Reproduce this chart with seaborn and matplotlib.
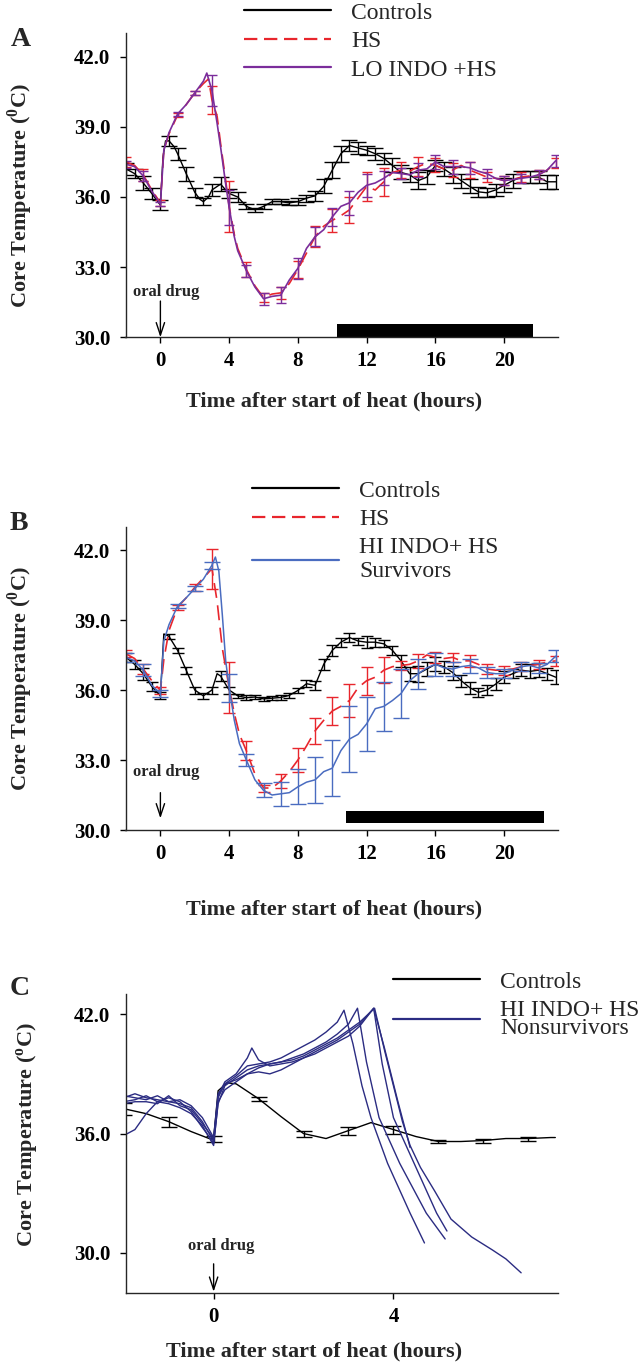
import matplotlib
matplotlib.use("Agg")
import matplotlib.pyplot as plt
from matplotlib.lines import Line2D
import seaborn as sns

# ---------------- panel A : controls / HS / LO INDO + HS ----------------
ctl_a_t = [-2, -1.5, -1, -0.5, -0.1, 0, 0.15, 0.3, 0.5, 0.8, 1, 1.5, 2, 2.3, 2.5, 2.8, 3, 3.5, 3.8, 4,
           4.5, 5, 5.5, 6, 6.5, 7, 7.5, 8, 8.5, 9, 9.5, 10, 10.5, 11, 11.5, 12, 12.5, 13, 13.5, 14,
           14.5, 15, 15.5, 16, 16.5, 17, 17.5, 18, 18.5, 19, 19.5, 20, 20.5, 21, 21.5, 22, 22.5, 23]
ctl_a_temp = [37.2, 37.0, 36.6, 36.15, 35.75, 35.66, 37.7, 38.4, 38.4, 38.15, 37.85, 37.0, 36.2, 35.9, 35.8,
              36.0, 36.3, 36.55, 36.3, 36.15,
              36.0, 35.6, 35.45, 35.6, 35.8, 35.8, 35.75, 35.8, 35.95, 36.05, 36.45, 37.15, 37.85, 38.2,
              38.1, 38.0, 37.85, 37.65, 37.35, 37.05, 36.95, 36.7, 36.85, 37.35, 37.2, 36.95, 36.7, 36.45,
              36.22, 36.18, 36.3, 36.5, 36.7, 36.85, 36.85, 36.85, 36.65, 36.65]
ctl_a_se = [0.25, 0.2, 0.3, 0.25, 0.2, 0.2, 0.25, 0.3, 0.2, 0.15, 0.25, 0.3, 0.2, 0.2, 0.12,
            0.1, 0.12, 0.1, 0.1, 0.1, 0.15, 0.15, 0.2, 0.3, 0.35, 0.35, 0.25, 0.25, 0.2, 0.25,
            0.25, 0.3, 0.3, 0.3, 0.35, 0.3, 0.25, 0.3, 0.35, 0.3, 0.3, 0.2, 0.2, 0.25, 0.3,
            0.3, 0.25, 0.25, 0.25, 0.3, 0.3]

hs_a_t = [-2, -1.5, -1, -0.5, 0, 0.2, 0.5, 1, 1.5, 2, 2.5, 2.8, 3, 3.3, 3.5, 3.8, 4, 4.3, 4.5, 5,
          5.5, 6, 6.5, 7, 7.5, 8, 8.5, 9, 9.5, 10, 10.5, 11, 11.5, 12, 12.5, 13, 13.5, 14, 14.5, 15,
          15.5, 16, 16.5, 17, 17.5, 18, 18.5, 19, 19.5, 20, 20.5, 21, 21.5, 22, 22.5, 23]
hs_a_temp = [37.5, 37.35, 36.95, 36.3, 35.75, 38.0, 38.7, 39.5, 39.95, 40.45, 40.85, 41.05, 40.15, 39.45,
             38.3, 36.7, 35.6, 34.4, 33.8, 32.9,
             32.2, 31.7, 31.85, 31.9, 32.3, 32.9, 33.6, 34.3, 34.75, 35.0, 35.2, 35.45, 35.95, 36.45,
             36.3, 36.65, 37.05, 37.15, 37.1, 37.3, 37.45, 37.35, 37.2, 37.15, 37.35, 37.15, 37.0,
             36.85, 36.8, 36.7, 36.75, 36.85, 36.9, 36.95, 37.15, 37.45]
hs_a_se = [0.2, 0.25, 0.12, 0.1, 0.1, 0.6, 1.1, 0.3, 0.2, 0.25, 0.35, 0.45, 0.5, 0.55, 0.6, 0.6,
           0.35, 0.4, 0.3, 0.3, 0.35, 0.2, 0.2, 0.2, 0.2, 0.2]

lo_a_t = [-2, -1.5, -1, -0.5, 0, 0.2, 0.5, 1, 1.5, 2, 2.5, 2.7, 3, 3.3, 3.5, 3.8, 4, 4.3, 4.5, 5,
          5.5, 6, 6.5, 7, 7.5, 8, 8.5, 9, 9.5, 10, 10.5, 11, 11.5, 12, 12.5, 13, 13.5, 14, 14.5, 15,
          15.5, 16, 16.5, 17, 17.5, 18, 18.5, 19, 19.5, 20, 20.5, 21, 21.5, 22, 22.5, 23]
lo_a_temp = [37.4, 37.3, 36.9, 36.25, 35.7, 38.0, 38.75, 39.55, 39.95, 40.45, 40.95, 41.3, 40.55, 39.15,
             38.15, 36.55, 35.55, 34.3, 33.7, 32.85,
             32.15, 31.65, 31.75, 31.8, 32.45, 32.95, 33.8, 34.3, 34.6, 35.15, 35.6, 35.75, 36.2, 36.5,
             36.6, 36.8, 37.05, 37.0, 36.95, 37.15, 37.2, 37.5, 37.3, 37.3, 37.3, 37.25, 37.1, 37.0,
             36.8, 36.7, 36.75, 36.8, 36.85, 36.95, 37.15, 37.55]
lo_a_se = [0.15, 0.2, 0.1, 0.1, 0.1, 0.65, 0.75, 0.25, 0.25, 0.35, 0.45, 0.4, 0.4, 0.5, 0.5, 0.3,
           0.25, 0.3, 0.3, 0.3, 0.25, 0.2, 0.2, 0.2, 0.2, 0.25]

dark_a = [10.3, 21.7]
dark_a_temp = [30.0, 30.55]

# ---------------- panel B : controls / HS / HI INDO + HS survivors ----------------
ctl_b_t = [-2, -1.5, -1, -0.5, 0, 0.2, 0.5, 1, 1.5, 2, 2.5, 3, 3.3, 3.5, 4,
           4.5, 5, 5.5, 6, 6.5, 7, 7.5, 8, 8.5, 9, 9.5, 10, 10.5, 11, 11.5, 12, 12.5, 13, 13.5, 14,
           14.5, 15, 15.5, 16, 16.5, 17, 17.5, 18, 18.5, 19, 19.5, 20, 20.5, 21, 21.5, 22, 22.5, 23]
ctl_b_temp = [37.4, 37.1, 36.7, 36.15, 35.75, 38.4, 38.3, 37.7, 36.85, 36.0, 35.75, 36.0, 36.7, 36.6, 36.0,
              35.75, 35.67, 35.7, 35.62, 35.65, 35.68, 35.77, 35.98, 36.27, 36.2, 37.1, 37.7, 38.05,
              38.25, 38.1, 38.05, 38.05, 37.98, 37.7, 37.25, 36.7, 36.7, 36.9, 37.1, 37.0, 36.75, 36.4,
              36.1, 35.9, 36.0, 36.25, 36.55, 36.7, 36.85, 36.8, 36.85, 36.7, 36.55]
ctl_b_se = [0.2, 0.2, 0.25, 0.2, 0.15, 0.1, 0.12, 0.15, 0.15, 0.12, 0.15, 0.2, 0.15, 0.1, 0.1,
            0.1, 0.08, 0.08, 0.1, 0.1, 0.12, 0.15, 0.2, 0.25, 0.25, 0.2, 0.2, 0.15, 0.25, 0.2,
            0.15, 0.2, 0.25, 0.3, 0.35, 0.3, 0.3, 0.25, 0.3, 0.25, 0.25, 0.2, 0.2, 0.25, 0.25,
            0.2, 0.25, 0.3, 0.3, 0.25, 0.3]

hs_b_t = [-2, -1.5, -1, -0.5, 0, 0.2, 0.5, 1, 1.5, 2, 2.5, 3, 3.3, 3.6, 4, 4.3, 4.6, 5,
          5.5, 6, 6.5, 7, 7.5, 8, 8.5, 9, 9.5, 10, 10.5, 11, 11.5, 12, 12.5, 13, 13.5, 14, 14.5, 15,
          15.5, 16, 16.5, 17, 17.5, 18, 18.5, 19, 19.5, 20, 20.5, 21, 21.5, 22, 22.5, 23]
hs_b_temp = [37.55, 37.35, 36.9, 36.4, 35.98, 37.3, 38.55, 39.55, 39.95, 40.4, 40.8, 41.2, 39.8, 37.8,
             36.1, 35.0, 34.1, 33.4,
             32.4, 31.8, 31.8, 32.1, 32.5, 33.0, 33.6, 34.25, 34.7, 35.1, 35.3, 35.55, 36.1, 36.4,
             36.55, 36.85, 37.0, 37.05, 37.1, 37.25, 37.5, 37.4, 37.35, 37.4, 37.25, 37.25, 37.1,
             36.9, 36.85, 36.85, 36.9, 37.0, 37.05, 37.1, 37.2, 37.25]
hs_b_se = [0.15, 0.2, 0.15, 0.1, 0.15, 0.85, 1.1, 0.4, 0.15, 0.3, 0.5, 0.55, 0.6, 0.7, 0.6, 0.55,
           0.2, 0.3, 0.25, 0.2, 0.25, 0.2, 0.2, 0.2, 0.2, 0.2]

hi_b_t = [-2, -1.5, -1, -0.5, 0, 0.2, 0.5, 1, 1.5, 2, 2.5, 3, 3.2, 3.4, 3.6, 3.8, 4, 4.3, 4.6, 5,
          5.5, 6, 6.5, 7, 7.5, 8, 8.5, 9, 9.5, 10, 10.5, 11, 11.5, 12, 12.5, 13, 13.5, 14, 14.5, 15,
          15.5, 16, 16.5, 17, 17.5, 18, 18.5, 19, 19.5, 20, 20.5, 21, 21.5, 22, 22.5, 23]
hi_b_temp = [37.4, 37.25, 36.85, 36.2, 35.85, 38.1, 38.8, 39.6, 39.95, 40.35, 40.75, 41.35, 41.7, 41.1,
             39.25, 37.25, 36.1, 34.7, 33.7, 33.0,
             32.15, 31.7, 31.5, 31.55, 31.6, 31.85, 32.05, 32.15, 32.5, 32.65, 33.4, 33.9, 34.1, 34.55,
             35.2, 35.3, 35.55, 35.85, 36.4, 36.7, 36.95, 37.1, 36.95, 36.9, 37.0, 37.05, 36.95, 36.75,
             36.7, 36.7, 36.85, 37.0, 37.05, 36.95, 37.1, 37.45]
hi_b_se = [0.2, 0.25, 0.15, 0.1, 0.1, 0.15, 0.6, 0.25, 0.3, 0.5, 0.75, 1.0, 1.2, 1.4, 1.15, 1.05,
           1.05, 0.65, 0.5, 0.3, 0.3, 0.25, 0.2, 0.2, 0.2, 0.25]

dark_b = [10.8, 22.3]
dark_b_temp = [30.3, 30.8]

# ---------------- panel C : controls / HI INDO + HS nonsurvivors ----------------
ctl_c_t = [-2, -1.5, -1, -0.5, -0.1, 0, 0.1, 0.3, 0.5, 1, 1.5, 2, 2.5, 3, 3.5, 4, 4.5, 5, 5.5, 6,
           6.5, 7, 7.5, 7.6]
ctl_c_temp = [37.25, 37.0, 36.6, 36.1, 35.75, 35.75, 38.15, 38.55, 38.5, 37.75, 36.85, 36.0, 35.75,
              36.15, 36.55, 36.2, 35.85, 35.6, 35.6, 35.65, 35.75, 35.75, 35.8, 35.8]
ctl_c_se = [0.3, 0.25, 0.15, 0.1, 0.15, 0.2, 0.2, 0.08, 0.1, 0.1]

ns1_t = [-2, -1.75, -1.5, -1.25, -1, -0.75, -0.5, -0.25, -0.05, 0, 0.1, 0.25, 0.5, 0.75, 1.0, 1.25,
         1.5, 1.75, 2.0, 2.25, 2.5, 2.75, 2.9, 3.1, 3.3, 3.5, 3.87, 4.37, 4.69]
ns1_temp = [37.9, 37.8, 37.7, 37.9, 37.6, 37.5, 37.3, 36.6, 35.8, 35.6, 37.8, 38.5, 38.9, 39.4, 39.5,
            39.6, 39.8, 40.1, 40.4, 40.7, 41.1, 41.6, 42.2, 40.5, 38.4, 36.8, 34.5, 32.0, 30.5]
ns2_t = [-2, -1.75, -1.5, -1.25, -1, -0.75, -0.5, -0.25, -0.05, 0, 0.1, 0.25, 0.5, 0.75, 1.0, 1.25,
         1.5, 1.75, 2.0, 2.25, 2.5, 2.75, 3.0, 3.2, 3.4, 3.68, 4.14, 4.73, 5.15]
ns2_temp = [37.6, 37.7, 37.9, 37.6, 37.8, 37.6, 37.1, 36.3, 35.7, 35.5, 37.5, 38.4, 38.8, 39.2, 39.4,
            39.5, 39.6, 39.8, 40.0, 40.3, 40.6, 41.0, 41.5, 42.3, 39.6, 36.8, 34.5, 32.0, 30.7]
ns3_t = [-2, -1.75, -1.5, -1.25, -1, -0.75, -0.5, -0.25, -0.05, 0, 0.1, 0.25, 0.5, 0.75, 1.0, 1.25,
         1.5, 1.75, 2.0, 2.25, 2.5, 2.75, 3.0, 3.25, 3.56, 3.8, 4.1, 4.37]
ns3_temp = [35.9, 36.2, 37.0, 37.6, 37.5, 37.3, 37.0, 36.4, 35.6, 35.4, 37.6, 38.2, 38.6, 39.0, 39.1,
            39.0, 39.2, 39.5, 39.8, 40.0, 40.3, 40.6, 40.9, 41.4, 42.3, 40.3, 37.6, 35.3]
ns4_t = [-2, -1.75, -1.5, -1.25, -1, -0.75, -0.5, -0.25, -0.05, 0, 0.1, 0.25, 0.5, 0.75, 0.85, 1.0,
         1.25, 1.5, 1.75, 2.0, 2.25, 2.5, 2.75, 3.0, 3.25, 3.56, 3.75, 4.0, 4.46, 4.96, 5.19]
ns4_temp = [37.5, 37.6, 37.6, 37.5, 37.9, 37.4, 37.2, 36.5, 35.9, 35.7, 37.9, 38.6, 39.0, 39.8, 40.3,
            39.7, 39.4, 39.5, 39.6, 39.8, 40.1, 40.4, 40.7, 41.1, 41.5, 42.3, 39.5, 36.8, 34.5, 32.0,
            31.1]
ns5_t = [-2, -1.75, -1.5, -1.25, -1, -0.75, -0.5, -0.25, -0.05, 0, 0.1, 0.25, 0.5, 0.75, 1.0, 1.25,
         1.5, 1.75, 2.0, 2.25, 2.5, 2.75, 3.0, 3.25, 3.58, 3.8, 4.0, 4.2, 4.37, 4.6, 4.92, 5.28, 5.74,
         6.2, 6.5, 6.84]
ns5_temp = [37.8, 38.0, 37.8, 37.7, 37.6, 37.7, 37.4, 36.8, 36.0, 35.8, 38.0, 38.5, 38.7, 39.0, 39.3,
            39.5, 39.6, 39.7, 39.9, 40.2, 40.5, 40.8, 41.2, 41.6, 42.3, 40.2, 38.4, 36.6, 35.4, 34.3,
            33.1, 31.7, 30.8, 30.15, 29.7, 29.0]

RED = "#e8262d"
PURPLE = "#7b2d9b"
BLUE = "#4a6cc0"
NAVY = "#2b2c82"

sns.set_style("ticks")
plt.rcParams["font.family"] = ["Liberation Serif", "DejaVu Serif"]
plt.rcParams["font.weight"] = "bold"
plt.rcParams["mathtext.fontset"] = "custom"
plt.rcParams["mathtext.rm"] = "Liberation Serif:bold"
plt.rcParams["mathtext.bf"] = "Liberation Serif:bold"
plt.rcParams["axes.linewidth"] = 1.0


def trace(ax, t, temp, color, lw=1.0, ls="-"):
    sns.lineplot(x=t, y=temp, ax=ax, color=color, lw=lw, linestyle=ls,
                 estimator=None, sort=False, legend=False)


def err(ax, t, temp, se, color, cap, step):
    # error bars sit on the curve at every `step` hours
    lookup = dict(zip(t, temp))
    et = [x for x in t if x / step == int(x / step)]
    ax.errorbar(et, [lookup[x] for x in et], yerr=se, fmt="none", ecolor=color,
                elinewidth=1.0, capsize=cap, capthick=1.0)


def style(ax, xlim, ylim, xticks, yticks):
    ax.set_xlim(xlim)
    ax.set_ylim(ylim)
    ax.set_xticks(xticks)
    ax.set_yticks(yticks)
    ax.set_yticklabels([f"{v:.1f}" for v in yticks])
    sns.despine(ax=ax)
    ax.tick_params(axis="both", direction="out", length=4, width=1, labelsize=15, colors="black")
    ax.tick_params(axis="y", pad=7)
    ax.tick_params(axis="x", pad=6)


def drug_arrow(ax, x_text, y_text, y_top, y_tip):
    ax.text(x_text, y_text, "oral drug", ha="center", va="center", fontsize=12, fontweight="bold")
    ax.annotate("", xy=(0, y_tip), xytext=(0, y_top),
                arrowprops=dict(arrowstyle="->,head_length=0.9,head_width=0.3", lw=1.0,
                                color="black", shrinkA=0, shrinkB=0))


def legend(ax, handles, labels, x, y, spacing=1.2):
    leg = ax.legend(handles, labels, loc="upper left", bbox_to_anchor=(x, y),
                    bbox_transform=ax.figure.transFigure, frameon=False, borderpad=0,
                    borderaxespad=0, handlelength=3.7, handletextpad=0.85, labelspacing=0.3,
                    prop={"family": "Liberation Serif", "weight": "normal", "size": 17})
    for txt in leg.get_texts():
        txt.set_linespacing(spacing)


H = 1367.0
W = 640.0
fig = plt.figure(figsize=(6.4, 13.67), dpi=100)
ax_a = fig.add_axes([125.5 / W, 1 - 337.3 / H, 432.8 / W, 304 / H])
ax_b = fig.add_axes([125.5 / W, 1 - 830 / H, 432.8 / W, 303.3 / H])
ax_c = fig.add_axes([125.5 / W, 1 - 1292.7 / H, 432.5 / W, 298.4 / H])

dash = (0, (9, 4.5))
ylab_ab = r"Core Temperature ($^{0}$C)"
xlab = "Time after start of heat (hours)"

# ---- A ----
ax_a.fill_between(dark_a, dark_a_temp[0], dark_a_temp[1], color="black", lw=0)
trace(ax_a, ctl_a_t, ctl_a_temp, "black")
err(ax_a, ctl_a_t, ctl_a_temp, ctl_a_se, "black", 6, 0.5)
trace(ax_a, hs_a_t, hs_a_temp, RED, lw=1.2, ls=dash)
err(ax_a, hs_a_t, hs_a_temp, hs_a_se, RED, 3.5, 1)
trace(ax_a, lo_a_t, lo_a_temp, PURPLE, lw=1.2)
err(ax_a, lo_a_t, lo_a_temp, lo_a_se, PURPLE, 3.5, 1)
style(ax_a, (-2.03, 23.15), (30, 43), [0, 4, 8, 12, 16, 20], [30, 33, 36, 39, 42])
drug_arrow(ax_a, 0.35, 31.95, 31.55, 30.0)
ax_a.set_ylabel(ylab_ab, fontsize=16, fontweight="bold")
ax_a.yaxis.set_label_coords(-0.209, 0.465)
ax_a.set_xlabel(xlab, fontsize=16, fontweight="bold")
ax_a.xaxis.set_label_coords(0.483, -0.177)
legend(ax_a,
       [Line2D([], [], color="black", lw=1.6), Line2D([], [], color=RED, lw=1.6, ls=(0, (6, 3))),
        Line2D([], [], color=PURPLE, lw=1.6)],
       ["Controls", "HS", "LO INDO +HS"], 244 / W, 1 - 2 / H)
fig.text(11 / W, 1 - 46 / H, "A", fontsize=20, fontweight="bold", ha="left", va="baseline")

# ---- B ----
ax_b.fill_between(dark_b, dark_b_temp[0], dark_b_temp[1], color="black", lw=0)
trace(ax_b, ctl_b_t, ctl_b_temp, "black")
err(ax_b, ctl_b_t, ctl_b_temp, ctl_b_se, "black", 4.5, 0.5)
trace(ax_b, hs_b_t, hs_b_temp, RED, lw=1.2, ls=dash)
err(ax_b, hs_b_t, hs_b_temp, hs_b_se, RED, 4.5, 1)
trace(ax_b, hi_b_t, hi_b_temp, BLUE, lw=1.1)
err(ax_b, hi_b_t, hi_b_temp, hi_b_se, BLUE, 5.5, 1)
style(ax_b, (-2.03, 23.15), (30, 43), [0, 4, 8, 12, 16, 20], [30, 33, 36, 39, 42])
drug_arrow(ax_b, 0.35, 32.5, 31.6, 30.5)
ax_b.set_ylabel(ylab_ab, fontsize=16, fontweight="bold")
ax_b.yaxis.set_label_coords(-0.209, 0.5)
ax_b.set_xlabel(xlab, fontsize=16, fontweight="bold")
ax_b.xaxis.set_label_coords(0.483, -0.23)
legend(ax_b,
       [Line2D([], [], color="black", lw=1.6), Line2D([], [], color=RED, lw=1.6, ls=(0, (6, 3))),
        Line2D([], [], color=BLUE, lw=1.6)],
       ["Controls", "HS", "HI INDO+ HS\nSurvivors"], 252 / W, 1 - 480 / H)
fig.text(10 / W, 1 - 530 / H, "B", fontsize=20, fontweight="bold", ha="left", va="baseline")

# ---- C ----
trace(ax_c, ctl_c_t, ctl_c_temp, "black")
err(ax_c, ctl_c_t, ctl_c_temp, ctl_c_se, "black", 6, 1)
for nt, ntemp in [(ns1_t, ns1_temp), (ns2_t, ns2_temp), (ns3_t, ns3_temp),
                  (ns4_t, ns4_temp), (ns5_t, ns5_temp)]:
    trace(ax_c, nt, ntemp, NAVY, lw=1.0)
style(ax_c, (-1.96, 7.66), (28, 43), [0, 4], [30, 36, 42])
drug_arrow(ax_c, 0.16, 30.36, 29.45, 28.05)
ax_c.set_ylabel(r"Core Temperature ($^{\mathrm{o}}$C)", fontsize=16, fontweight="bold")
ax_c.yaxis.set_label_coords(-0.195, 0.528)
ax_c.set_xlabel(xlab, fontsize=16, fontweight="bold")
ax_c.xaxis.set_label_coords(0.436, -0.162)
legend(ax_c,
       [Line2D([], [], color="black", lw=1.6), Line2D([], [], color=NAVY, lw=1.6)],
       ["Controls", "HI INDO+ HS\nNonsurvivors"], 393 / W, 1 - 971 / H, spacing=0.85)
fig.text(10 / W, 1 - 995 / H, "C", fontsize=20, fontweight="bold", ha="left", va="baseline")

fig.savefig("out.png", dpi=100)
